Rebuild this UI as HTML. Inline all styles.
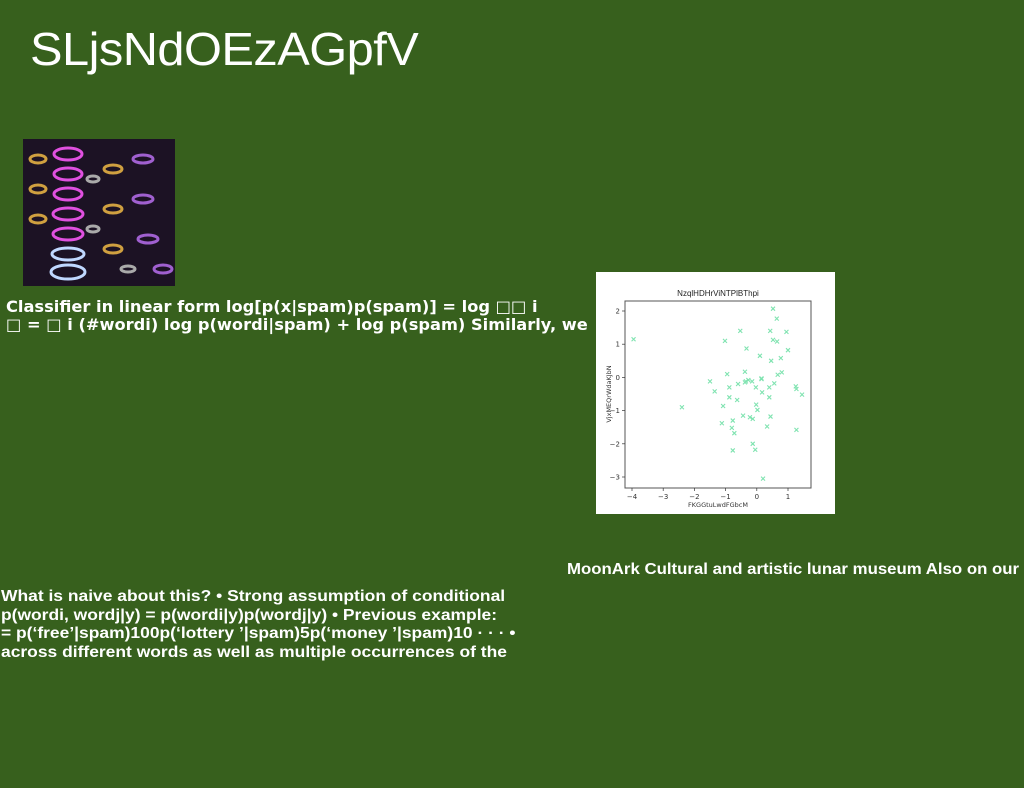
<!DOCTYPE html>
<html><head><meta charset="utf-8"><style>
body{margin:0;width:1024px;height:788px;background:#37601d;position:relative;overflow:hidden;font-family:"Liberation Sans",sans-serif;color:#fff}
.abs{position:absolute;white-space:nowrap;transform-origin:0 0}
#title{left:30px;top:22px;font-size:46px;letter-spacing:-0.5px;transform:scaleX(1.06)}
#photo{left:23px;top:139px;width:152px;height:147px;background:#1a1020;overflow:hidden}
#para1{left:6px;top:298px;font-size:16px;font-weight:bold;line-height:18px;font-family:"DejaVu Sans Condensed","DejaVu Sans",sans-serif;transform:scaleX(1.128)}
.cond{font-family:"Liberation Sans Narrow","Liberation Sans",sans-serif;font-weight:bold;font-size:16px;font-stretch:condensed}
#moon{left:567px;top:561px;transform:scaleX(1.05)}
#para2{left:1px;top:588px;line-height:18.5px;transform:scaleX(1.09)}
#chart{left:596px;top:272px;width:239px;height:242px;background:#fff}
</style></head><body>
<div id="title" class="abs">SLjsNdOEzAGpfV</div>
<div id="photo" class="abs">
<svg width="152" height="147" viewBox="0 0 152 147">
<rect width="152" height="147" fill="#1c1224"/>
<g fill="none" stroke-width="3">
<g stroke="#e050e0"><ellipse cx="45" cy="15" rx="14" ry="6"/><ellipse cx="45" cy="35" rx="14" ry="6"/><ellipse cx="45" cy="55" rx="14" ry="6"/><ellipse cx="45" cy="75" rx="15" ry="6"/><ellipse cx="45" cy="95" rx="15" ry="6"/></g>
<g stroke="#c0d8ff"><ellipse cx="45" cy="115" rx="16" ry="6"/><ellipse cx="45" cy="133" rx="17" ry="7"/></g>
<g stroke="#d0a040"><ellipse cx="15" cy="20" rx="8" ry="4"/><ellipse cx="15" cy="50" rx="8" ry="4"/><ellipse cx="15" cy="80" rx="8" ry="4"/><ellipse cx="90" cy="30" rx="9" ry="4"/><ellipse cx="90" cy="70" rx="9" ry="4"/><ellipse cx="90" cy="110" rx="9" ry="4"/></g>
<g stroke="#a060d0"><ellipse cx="120" cy="20" rx="10" ry="4"/><ellipse cx="120" cy="60" rx="10" ry="4"/><ellipse cx="125" cy="100" rx="10" ry="4"/><ellipse cx="140" cy="130" rx="9" ry="4"/></g>
<g stroke="#aaa"><ellipse cx="70" cy="40" rx="6" ry="3"/><ellipse cx="70" cy="90" rx="6" ry="3"/><ellipse cx="105" cy="130" rx="7" ry="3"/></g>
</g></svg></div>
<div id="para1" class="abs">Classifier in linear form log[p(x|spam)p(spam)] = log □□ i<br>□ = □ i (#wordi) log p(wordi|spam) + log p(spam) Similarly, we</div>
<div id="chart" class="abs"><svg id="svg" width="239" height="242"></svg></div>
<div id="moon" class="abs cond">MoonArk Cultural and artistic lunar museum Also on our</div>
<div id="para2" class="abs cond">What is naive about this? • Strong assumption of conditional<br>p(wordi, wordj|y) = p(wordi|y)p(wordj|y) • Previous example:<br>= p(‘free’|spam)100p(‘lottery ’|spam)5p(‘money ’|spam)10 · · · •<br>across different words as well as multiple occurrences of the</div>
<script>
const xVals=[-3.95,-2.4,-1.5,-1.35,-1.12,-1.08,-1.02,-0.95,-0.88,-0.88,-0.8,-0.77,-0.77,-0.72,-0.63,-0.6,-0.53,-0.44,-0.38,-0.38,-0.35,-0.33,-0.27,-0.22,-0.13,-0.15,-0.13,-0.05,-0.03,-0.02,0.02,0.1,0.15,0.17,0.2,0.33,0.4,0.4,0.43,0.44,0.46,0.52,0.52,0.56,0.64,0.65,0.67,0.77,0.8,0.95,1.0,1.25,1.27,1.27,1.45,0.15];
const yVals=[1.15,-0.9,-0.12,-0.42,-1.38,-0.86,1.1,0.1,-0.3,-0.6,-1.52,-1.3,-2.2,-1.68,-0.68,-0.2,1.4,-1.15,0.17,-0.15,-0.12,0.87,-0.08,-1.2,-1.25,-0.12,-2.0,-2.18,-0.3,-0.82,-0.98,0.65,-0.03,-0.45,-3.05,-1.48,-0.3,-0.6,1.4,-1.18,0.5,1.13,2.07,-0.18,1.77,1.08,0.08,0.58,0.15,1.37,0.82,-0.27,-0.35,-1.58,-0.52,-0.05];
const xTicks=[-4,-3,-2,-1,0,1];
const yTicks=[2,1,0,-1,-2,-3];
const NS='http://www.w3.org/2000/svg';
const svg=document.getElementById('svg');
const L=29,R=215,T=29,B=216;
const sx=v=>36+(v+4)*31.2;
const sy=v=>39+(2-v)*33.2;
function mk(tag,attrs,txt){const e=document.createElementNS(NS,tag);for(const k in attrs)e.setAttribute(k,attrs[k]);if(txt!==undefined)e.textContent=txt;svg.appendChild(e);return e;}
let t=mk('text',{x:122,y:24,'font-size':8,'text-anchor':'middle',fill:'#222','font-family':'Liberation Sans, sans-serif'},'NzqlHDHrViNTPlBThpi');


let fr=mk('rect',{x:L,y:T,width:R-L,height:B-T,fill:'none',stroke:'#555','stroke-width':1});


xTicks.forEach(v=>{const x=sx(v);mk('line',{x1:x,x2:x,y1:B,y2:B+3,stroke:'#333','stroke-width':0.7});
const e=mk('text',{x:x,y:B+11,'font-size':7,'text-anchor':'middle',fill:'#333','font-family':'DejaVu Sans, sans-serif'},v<0?'−'+(-v):String(v));

});
yTicks.forEach(v=>{const y=sy(v);mk('line',{x1:L-3,x2:L,y1:y,y2:y,stroke:'#333','stroke-width':0.7});
const e=mk('text',{x:L-5,y:y+2.5,'font-size':7,'text-anchor':'end',fill:'#333','font-family':'DejaVu Sans, sans-serif'},v<0?'−'+(-v):String(v));

});
let xl=mk('text',{x:122,y:235,'font-size':6.5,'text-anchor':'middle',fill:'#333','font-family':'DejaVu Sans, sans-serif'},'FKGGtuLwdFGbcM');


let yl=mk('text',{x:0,y:0,'font-size':6.5,'text-anchor':'middle',fill:'#333','font-family':'DejaVu Sans, sans-serif',transform:'translate(15,122) rotate(-90)'},'VjxMEQrWdaKJbN');


xVals.forEach((xv,i)=>{const x=sx(xv),y=sy(yVals[i]),d=2;
const p=mk('path',{d:`M${x-d},${y-d}L${x+d},${y+d}M${x-d},${y+d}L${x+d},${y-d}`,stroke:'#7fe3b0','stroke-width':1.1,fill:'none'});

});
</script>
</body></html>
